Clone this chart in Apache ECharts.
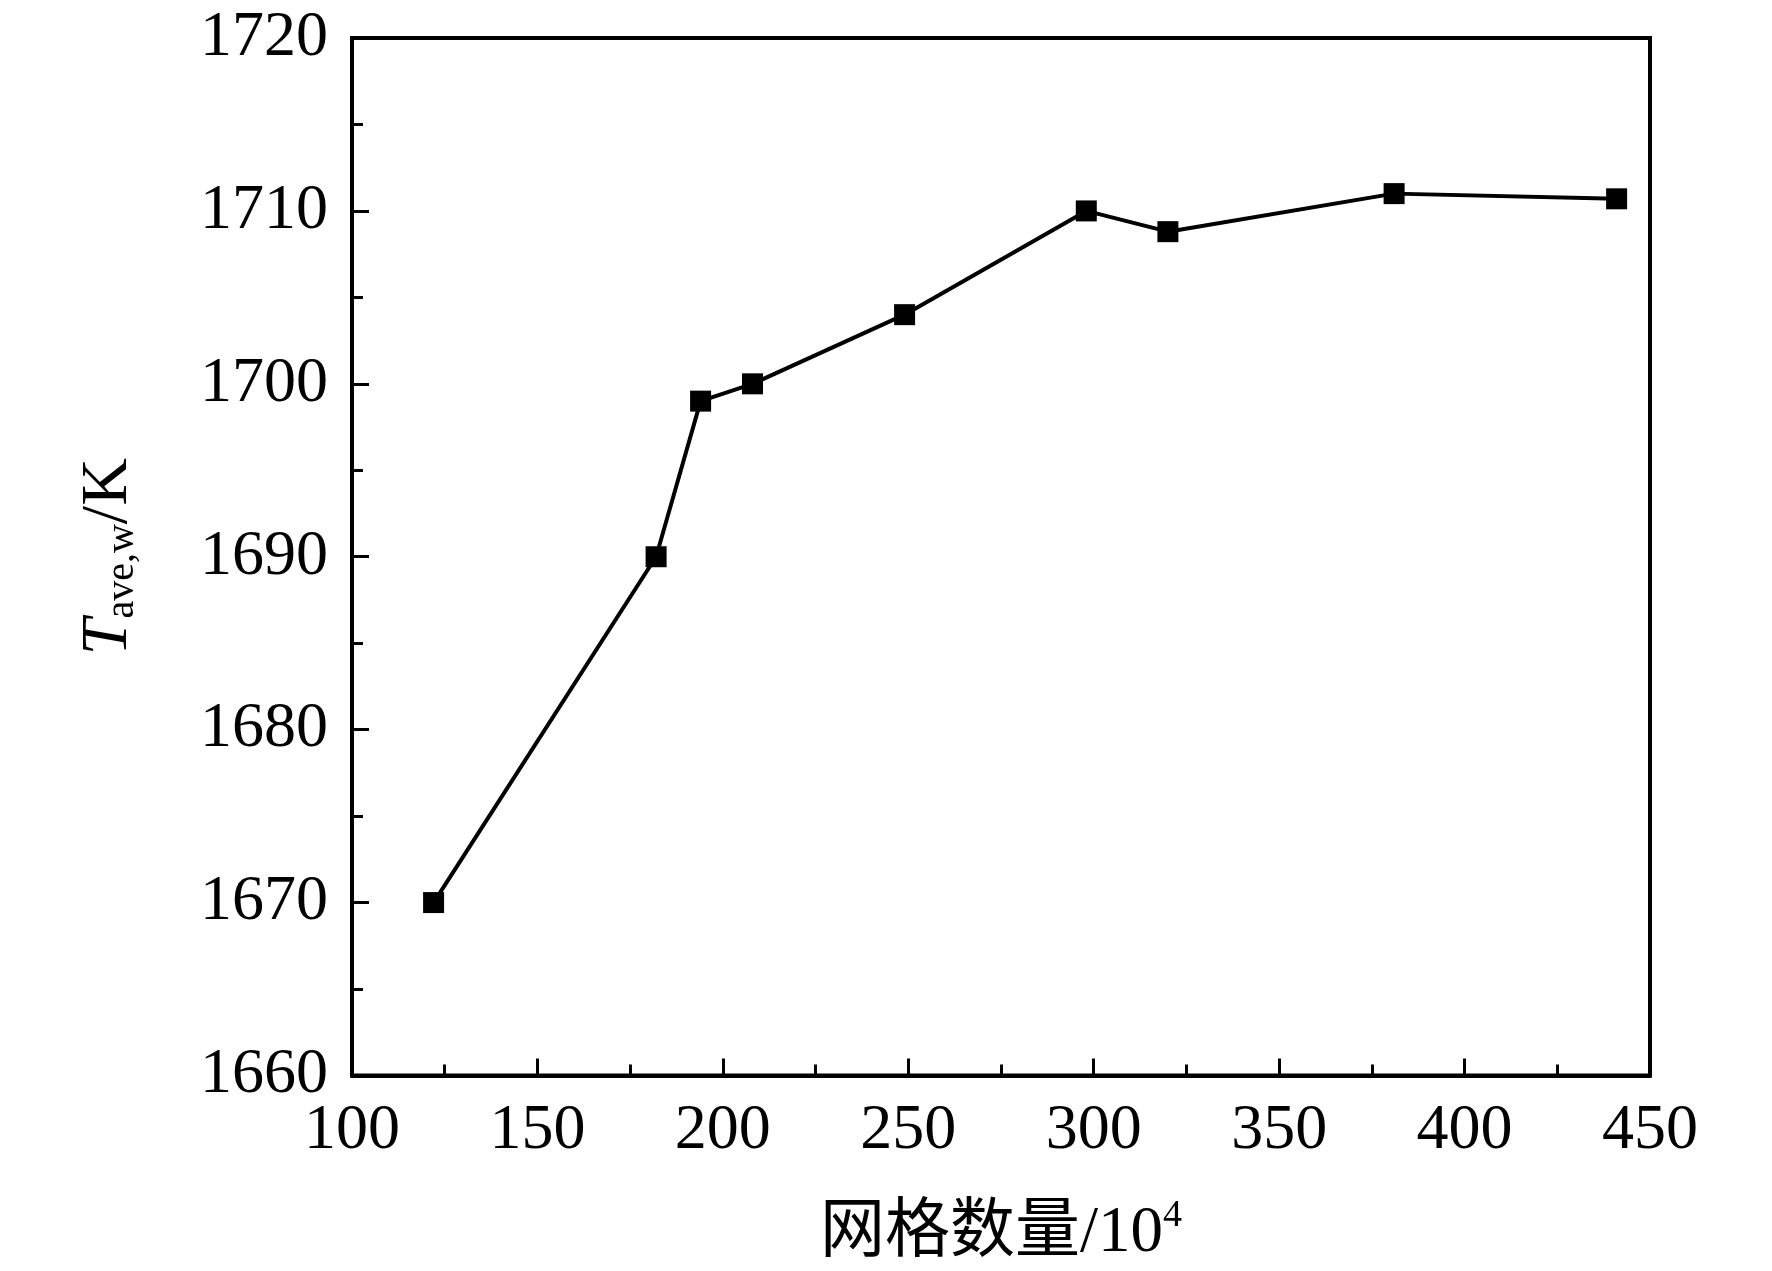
<!DOCTYPE html>
<html lang="zh">
<head>
    <meta charset="UTF-8">
    <title>网格无关性</title>
    <style>
        html, body { margin: 0; padding: 0; background: #fff; }
        #chart { width: 1772px; height: 1271px; }
    </style>
</head>
<body>
<div id="chart"></div>
<script src="https://cdn.jsdelivr.net/npm/echarts@6/dist/echarts.min.js"></script>
<script>
    // mesh count (10^4) and mean wall temperature (K)
    var meshCount = [122, 182, 194, 208, 249, 298, 320, 381, 441];
    var tempAve = [1670, 1690, 1699, 1700, 1704, 1710, 1708.8, 1711, 1710.7];

    var xMin = 100, xMax = 450, xStep = 50;
    var yMin = 1660, yMax = 1720, yStep = 10;

    var serif = "'Liberation Serif', 'Times New Roman', 'Noto Sans CJK SC', serif";

    var points = [];
    for (var i = 0; i < meshCount.length; i++) {
        points.push([meshCount[i], tempAve[i]]);
    }

    function plain(v) {
        return String(v);
    }

    var chart = echarts.init(document.getElementById("chart"));
    var option = {
        animation: false,
        backgroundColor: "#fff",
        grid: {
            left: 352,
            right: 122,
            top: 38,
            bottom: 194,
            show: true,
            borderColor: "#000",
            borderWidth: 4,
            backgroundColor: "transparent"
        },
        xAxis: {
            type: "value",
            min: xMin,
            max: xMax,
            interval: xStep,
            name: "{a|网格数量/10}{b|4}",
            nameLocation: "middle",
            nameGap: 122,
            nameTextStyle: {
                rich: {
                    a: {fontFamily: serif, fontSize: 65, color: "#000", lineHeight: 72},
                    b: {fontFamily: serif, fontSize: 38, color: "#000", verticalAlign: "top", lineHeight: 72}
                }
            },
            axisLine: {lineStyle: {color: "#000", width: 4}},
            axisTick: {inside: true, length: 17, lineStyle: {color: "#000", width: 3}},
            minorTick: {show: true, splitNumber: 2, length: 11, lineStyle: {color: "#000", width: 3}},
            splitLine: {show: false},
            axisLabel: {
                margin: 24,
                fontFamily: serif,
                fontSize: 64,
                color: "#000",
                formatter: plain
            }
        },
        yAxis: {
            type: "value",
            min: yMin,
            max: yMax,
            interval: yStep,
            name: "{t|T}{s|ave,w}{n|/K}",
            nameLocation: "middle",
            nameGap: 210,
            nameRotate: 90,
            nameTextStyle: {
                rich: {
                    t: {fontFamily: serif, fontStyle: "italic", fontSize: 66, color: "#000", lineHeight: 76, verticalAlign: "bottom"},
                    s: {fontFamily: serif, fontSize: 40, color: "#000", lineHeight: 60, verticalAlign: "bottom"},
                    n: {fontFamily: serif, fontSize: 66, color: "#000", lineHeight: 76, verticalAlign: "bottom"}
                }
            },
            axisLine: {lineStyle: {color: "#000", width: 4}},
            axisTick: {inside: true, length: 17, lineStyle: {color: "#000", width: 3}},
            minorTick: {show: true, splitNumber: 2, length: 11, lineStyle: {color: "#000", width: 3}},
            splitLine: {show: false},
            axisLabel: {
                margin: 24,
                fontFamily: serif,
                fontSize: 64,
                color: "#000",
                formatter: plain
            }
        },
        series: [
            {
                type: "line",
                data: points,
                symbol: "rect",
                symbolSize: 21,
                lineStyle: {color: "#000", width: 4},
                itemStyle: {color: "#000"}
            }
        ]
    };
    chart.setOption(option);
</script>
</body>
</html>
